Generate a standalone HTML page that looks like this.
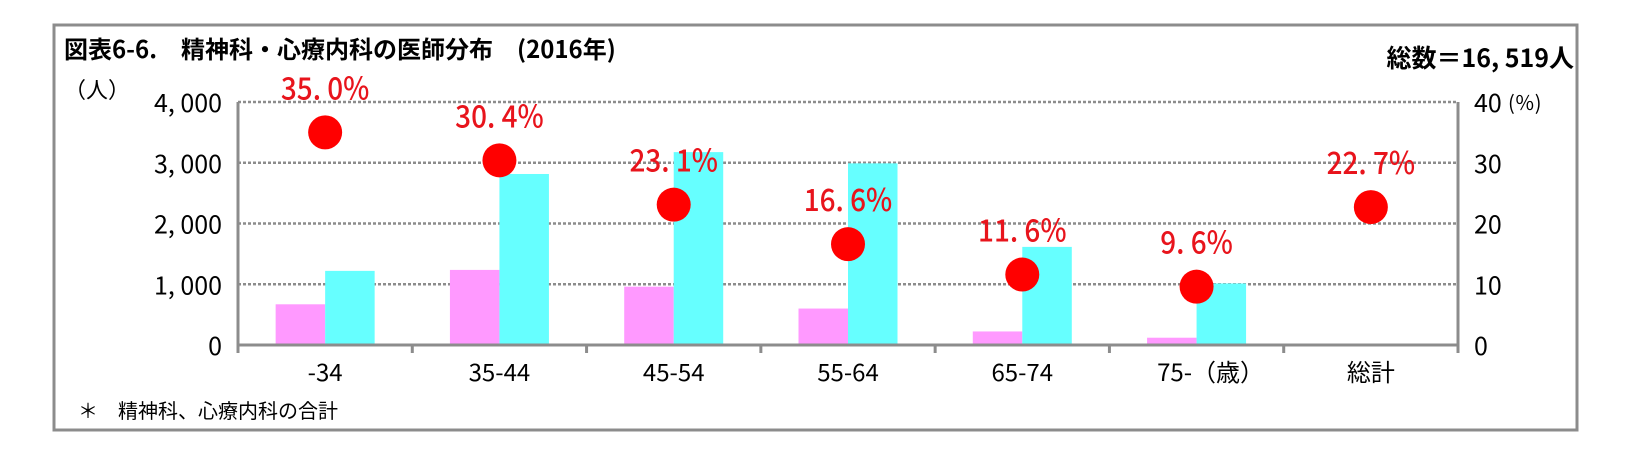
<!DOCTYPE html>
<html><head><meta charset="utf-8"><style>
body{margin:0;background:#fff;width:1642px;height:446px;overflow:hidden}
svg text{font-family:"Noto Sans CJK JP","Liberation Sans",sans-serif}
</style></head><body>
<svg width="1642" height="446">
<rect x="54" y="25" width="1523" height="405" fill="#fff" stroke="#8c8c8c" stroke-width="3"/>
<text x="64" y="58" font-size="24" font-weight="bold">図表6-6.　精神科・心療内科の医師分布　(2016年)</text>
<text x="1574" y="67" font-size="25" font-weight="bold" text-anchor="end">総数＝16, 519人</text>
<text x="64" y="98" font-size="22">（人）</text>
<text x="78" y="418" font-size="20">＊　精神科、心療内科の合計</text>
<g id="g"></g>
</svg>
<script>
const categories=["-34","35-44","45-54","55-64","65-74","75-（歳）","総計"];
const pinkVals=[670,1236,960,600,223,120,null];
const cyanVals=[1220,2815,3175,2990,1615,1013,null];
const pctVals=[35.0,30.4,23.1,16.6,11.6,9.6,22.7];
const leftTicks=[0,1000,2000,3000,4000];
const rightTicks=[0,10,20,30,40];
const L=238,R=1458,T=102,B=345;
const cw=(R-L)/categories.length;
const y1=v=>B-(v/4000)*(B-T);
const y2=v=>B-(v/40)*(B-T);
const cx=i=>L+cw*(i+0.5);
const g=document.getElementById('g');
const NS='http://www.w3.org/2000/svg';
function mk(t,a){const e=document.createElementNS(NS,t);for(const k in a)e.setAttribute(k,a[k]);g.appendChild(e);return e;}
leftTicks.forEach((v,i)=>{
 if(v>0){const l=mk('line',{x1:L,x2:R,y1:y1(v),y2:y1(v),stroke:'#8c8c8c','stroke-width':2.5,'stroke-dasharray':'3,2'});
 
 }
 const t=mk('text',{x:L-16,y:y1(v)+10,'font-size':25,'text-anchor':'end'});t.textContent=v.toLocaleString('en-US').replace(',',', ');
 
 
});
rightTicks.forEach(v=>{
 const t=mk('text',{x:R+16,y:y2(v)+10,'font-size':25});t.textContent=v;
 
 
});
const u=mk('text',{x:R+50,y:y2(40)+8,'font-size':20});u.textContent='(％)';


const bw=49.5;
categories.forEach((c,i)=>{
 if(pinkVals[i]!=null){const r=mk('rect',{x:cx(i)-bw,y:y1(pinkVals[i]),width:bw,height:B-y1(pinkVals[i]),fill:'#ff99ff'});
 
 }
 if(cyanVals[i]!=null){const r=mk('rect',{x:cx(i),y:y1(cyanVals[i]),width:bw,height:B-y1(cyanVals[i]),fill:'#66ffff'});
 
 }
 const t=mk('text',{x:cx(i)+(i==5?14:0),y:B+36,'font-size':24,'text-anchor':'middle'});t.textContent=c;
 
 
});
mk('line',{x1:L,x2:L,y1:T,y2:B,stroke:'#8c8c8c','stroke-width':3});
mk('line',{x1:R,x2:R,y1:T,y2:B,stroke:'#8c8c8c','stroke-width':3});
mk('line',{x1:L,x2:R,y1:B,y2:B,stroke:'#8c8c8c','stroke-width':3});
for(let i=0;i<=categories.length;i++)mk('line',{x1:L+cw*i,x2:L+cw*i,y1:B,y2:B+8,stroke:'#8c8c8c','stroke-width':3});
pctVals.forEach((v,i)=>{
 const d=mk('circle',{cx:cx(i),cy:y2(v),r:17,fill:'#ff0000'});
 
 
 const t=mk('text',{x:cx(i),y:y2(v)-33,'font-size':31,'font-weight':500,fill:'#e8141c','text-anchor':'middle',transform:`translate(${cx(i)},0) scale(0.9,1) translate(${-cx(i)},0)`});
 t.textContent=v.toFixed(1).replace('.','. ')+'%';
 
 
});
</script>
</body></html>
